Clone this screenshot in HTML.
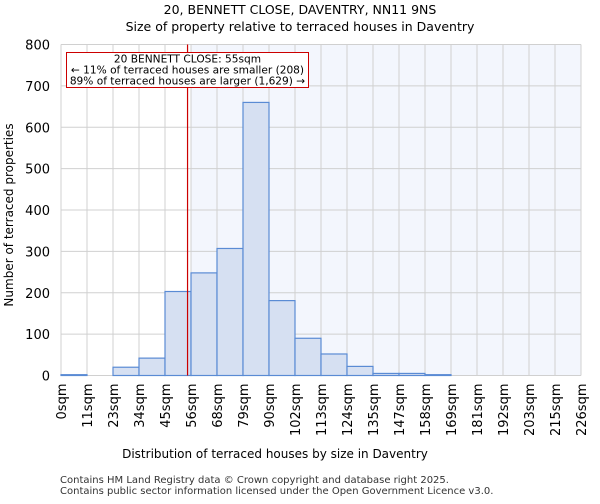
<!DOCTYPE html>
<html><head><meta charset="utf-8"><style>
body{margin:0;background:#fff;font-family:"DejaVu Sans","Liberation Sans",sans-serif;}
svg text{font-family:"DejaVu Sans","Liberation Sans",sans-serif;}
</style></head><body>
<svg id="c" width="600" height="500" xmlns="http://www.w3.org/2000/svg">
<text x="300" y="14" text-anchor="middle" font-size="12.5">20, BENNETT CLOSE, DAVENTRY, NN11 9NS</text>
<text x="300" y="31" text-anchor="middle" font-size="12.5">Size of property relative to terraced houses in Daventry</text>
<g id="plot"></g>
<text x="275" y="458" text-anchor="middle" font-size="12">Distribution of terraced houses by size in Daventry</text>
<text transform="translate(13,215) rotate(-90)" text-anchor="middle" font-size="12">Number of terraced properties</text>
<text x="60" y="483" font-size="10" fill="#333">Contains HM Land Registry data © Crown copyright and database right 2025.</text>
<text x="60" y="494" font-size="10" fill="#333">Contains public sector information licensed under the Open Government Licence v3.0.</text>
</svg>
<script>
const binLabels=["0sqm","11sqm","23sqm","34sqm","45sqm","56sqm","68sqm","79sqm","90sqm","102sqm","113sqm","124sqm","135sqm","147sqm","158sqm","169sqm","181sqm","192sqm","203sqm","215sqm","226sqm"];
const counts=[2,0,20,42,203,248,307,660,181,90,52,22,5,5,2,0,0,0,0,0];
const yTicks=[0,100,200,300,400,500,600,700,800];
const propertySize=55;
const maxSize=226;
const highlightBin=5;
const NS="http://www.w3.org/2000/svg";
const L=61,R=581,T=44.5,B=375.5,yMax=800;
const bw=(R-L)/counts.length;
const xb=i=>L+i*bw;
const xv=v=>L+v*(R-L)/maxSize;
const y=v=>B-v*(B-T)/yMax;
const g=document.getElementById('plot');
function mk(t,a){const e=document.createElementNS(NS,t);for(const k in a)e.setAttribute(k,a[k]);g.appendChild(e);return e;}
let e=mk('rect',{x:xb(highlightBin),y:T,width:R-xb(highlightBin),height:B-T,fill:'#f3f6fd'});


for(let i=0;i<=counts.length;i++){e=mk('line',{x1:xb(i),x2:xb(i),y1:T,y2:B,stroke:'#d0d0d0','stroke-width':1});

}
yTicks.forEach(t=>{e=mk('line',{x1:L,x2:R,y1:y(t),y2:y(t),stroke:'#d0d0d0','stroke-width':1});


e=mk('text',{x:L-11,y:y(t)+5,'text-anchor':'end','font-size':13});e.textContent=t;

});
counts.forEach((c,i)=>{if(c<=0)return;e=mk('rect',{x:xb(i),y:y(c),width:bw,height:B-y(c),fill:'#d6e0f2',stroke:'#5a8bd4','stroke-width':1.2});

});
binLabels.forEach((l,i)=>{e=mk('text',{transform:`translate(${xb(i)+5},${B+8}) rotate(-90)`,'text-anchor':'end','font-size':13});e.textContent=l;

});
const px=xv(propertySize);
e=mk('line',{x1:px,x2:px,y1:T,y2:B,stroke:'#c00','stroke-width':1.2});


e=mk('rect',{x:66.5,y:52.5,width:242,height:35,fill:'#fff',stroke:'#c00','stroke-width':1});


[["20 BENNETT CLOSE: 55sqm",62.5],["← 11% of terraced houses are smaller (208)",73.5],["89% of terraced houses are larger (1,629) →",84.5]].forEach(([t,yy])=>{e=mk('text',{x:187.5,y:yy,'text-anchor':'middle','font-size':10.6});e.textContent=t;

});
</script>
</body></html>
